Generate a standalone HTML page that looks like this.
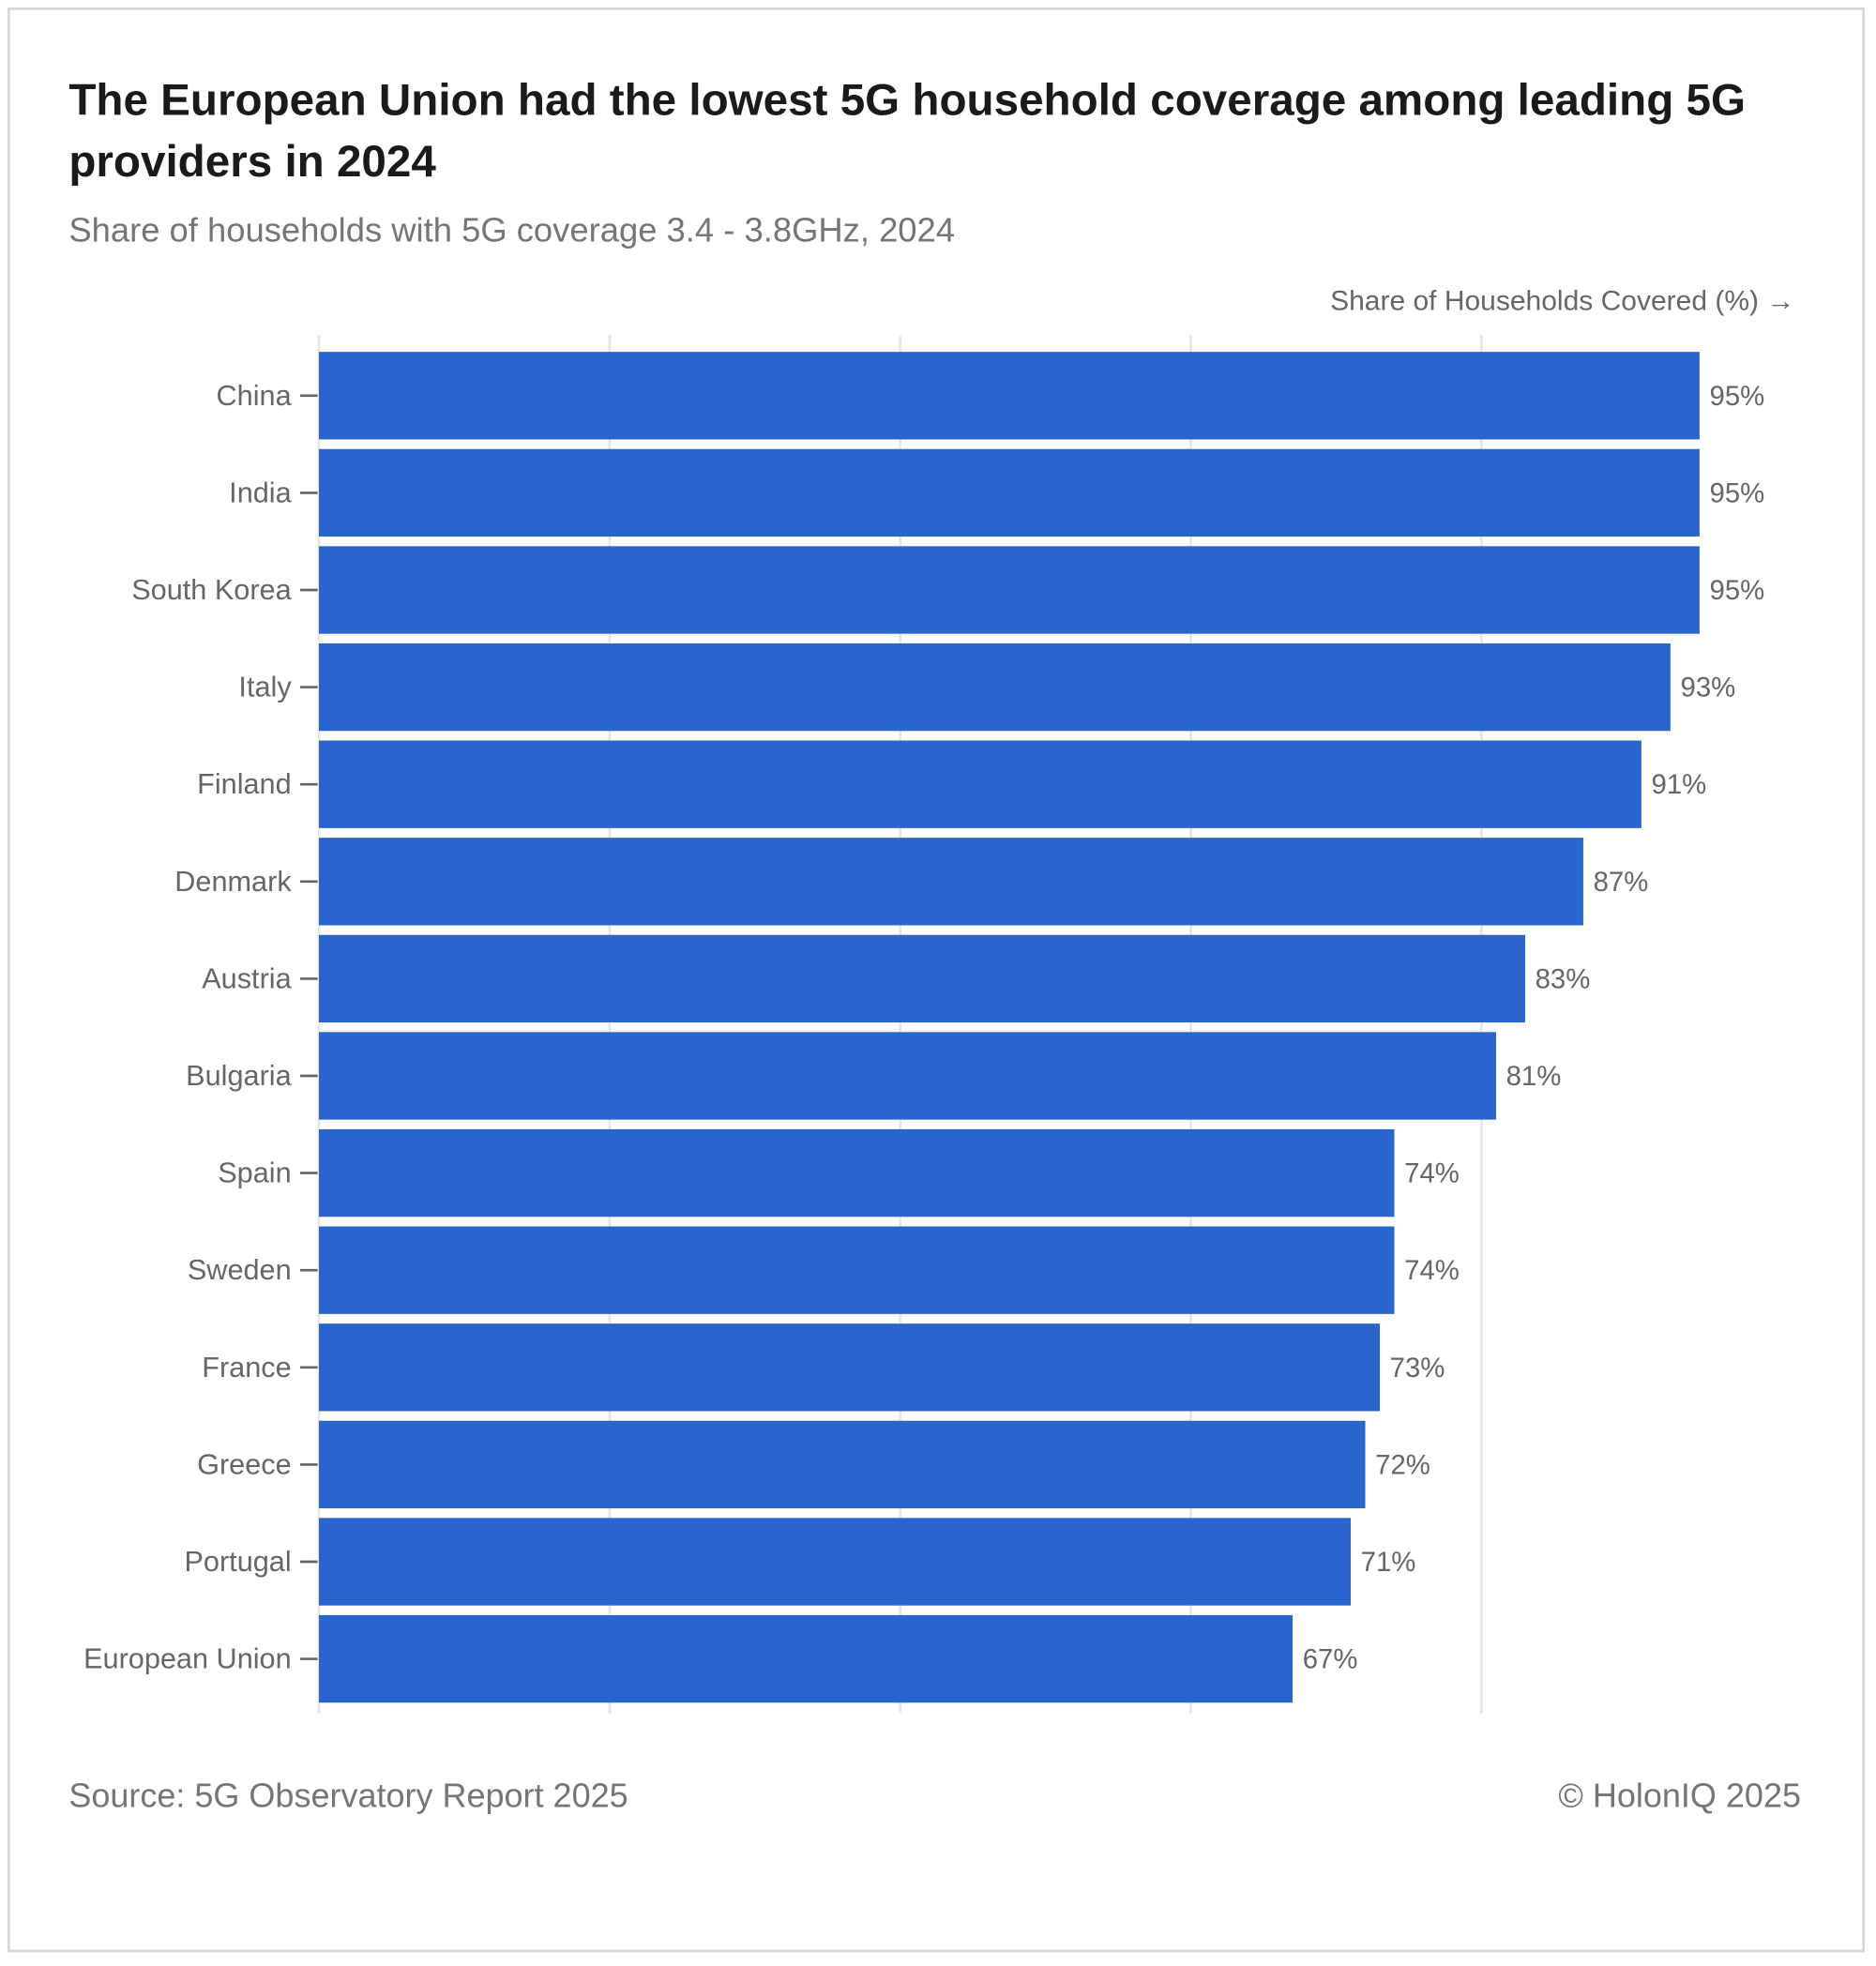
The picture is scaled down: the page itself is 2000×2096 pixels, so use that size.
<!DOCTYPE html>
<html><head><meta charset="utf-8"><style>
html,body{margin:0;padding:0;background:#fff}
svg{display:block}
text{font-family:"Liberation Sans",sans-serif}
</style></head><body>
<svg id="chart" width="2000" height="2096" viewBox="0 0 1500 1572" xmlns="http://www.w3.org/2000/svg">
<rect x="7" y="7" width="1483" height="1553" fill="#fff" stroke="#d6d6d6" stroke-width="2"/>
<text x="55" y="92" font-size="35.7" font-weight="bold" fill="#1a1a1a">The European Union had the lowest 5G household coverage among leading 5G</text>
<text x="55" y="141" font-size="35.7" font-weight="bold" fill="#1a1a1a">providers in 2024</text>
<text x="55" y="193" font-size="27.3" fill="#757575">Share of households with 5G coverage 3.4 - 3.8GHz, 2024</text>
<text x="1435" y="248" font-size="22.5" fill="#666" text-anchor="end">Share of Households Covered (%) →</text>
<g id="grid"></g>
<g id="bars"></g>
<text x="55" y="1445" font-size="27" fill="#757575">Source: 5G Observatory Report 2025</text>
<text x="1440" y="1445" font-size="27" fill="#757575" text-anchor="end">© HolonIQ 2025</text>
</svg>
<script>
const categories=["China","India","South Korea","Italy","Finland","Denmark","Austria","Bulgaria","Spain","Sweden","France","Greece","Portugal","European Union"];
const values=[95,95,95,93,91,87,83,81,74,74,73,72,71,67];
const valueLabels=["95%","95%","95%","93%","91%","87%","83%","81%","74%","74%","73%","72%","71%","67%"];
const xTicks=[0,20,40,60,80];
const NS="http://www.w3.org/2000/svg";
const x0=255,pxPer=11.62,top0=277.5,pitch=77.7,barH=70,plotBottom=1370;
const xs=v=>x0+v*pxPer;
const grid=document.getElementById('grid'),bars=document.getElementById('bars');
function mk(t,a,p){const e=document.createElementNS(NS,t);for(const k in a)e.setAttribute(k,a[k]);p.appendChild(e);return e;}
xTicks.forEach(t=>{
  const l=mk('line',{x1:xs(t),x2:xs(t),y1:268,y2:plotBottom,stroke:'#e6e6e6','stroke-width':2},grid);
  
  
});
categories.forEach((c,i)=>{
  const y=top0+i*pitch,cy=y+pitch/2;
  const r=mk('rect',{x:x0,y:cy-barH/2,width:xs(values[i])-x0,height:barH,fill:'#2965cc'},bars);
  
  
  const tk=mk('line',{x1:240,x2:254,y1:cy,y2:cy,stroke:'#666','stroke-width':2},bars);
  
  
  const lb=mk('text',{x:233,y:cy+7.5,'font-size':23,fill:'#666','text-anchor':'end'},bars);
  lb.textContent=c;
  
  
  const vl=mk('text',{x:xs(values[i])+8,y:cy+7.5,'font-size':22,fill:'#666'},bars);
  vl.textContent=valueLabels[i];
  
  
});
</script>
</body></html>
